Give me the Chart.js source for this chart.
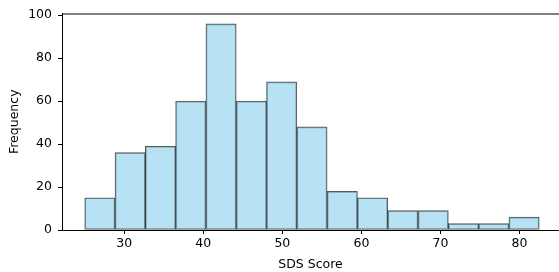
<!DOCTYPE html>
<html>
<head>
<meta charset="utf-8">
<script src="https://cdn.jsdelivr.net/npm/chart.js@4/dist/chart.umd.min.js"></script>
<style>
    html, body { margin: 0; padding: 0; background: #fff; overflow: hidden; }
    #wrap { width: 559px; height: 272px; position: relative; }
</style>
</head>
<body>
<div id="wrap"><canvas id="histChart"></canvas></div>
<script>
// histogram: 15 bins from 25 to 82.5
const binStart = 25;
const binEnd = 82.5;
const counts = [15, 36, 39, 60, 96, 60, 69, 48, 18, 15, 9, 9, 3, 3, 6];
const xTicks = [30, 40, 50, 60, 70, 80];
const yTicks = [0, 20, 40, 60, 80, 100];

const binWidth = (binEnd - binStart) / counts.length;
const binCenters = counts.map((c, i) => binStart + binWidth * (i + 0.5));

const fontFamily = "'DejaVu Sans', sans-serif";

// matplotlib-like top spine
const topSpine = {
    id: 'topSpine',
    afterDraw(chart) {
        const { ctx, chartArea } = chart;
        ctx.save();
        ctx.strokeStyle = '#000';
        ctx.lineWidth = 1;
        ctx.beginPath();
        ctx.moveTo(chartArea.left, chartArea.top + 0.5);
        ctx.lineTo(chartArea.right, chartArea.top + 0.5);
        ctx.stroke();
        ctx.restore();
    }
};

document.addEventListener('DOMContentLoaded', () => {
    const ctx = document.getElementById('histChart');
    new Chart(ctx.getContext('2d'), {
        type: 'bar',
        data: {
            datasets: [{
                label: 'Frequency',
                data: binCenters.map((x, i) => ({ x: x, y: counts[i] })),
                backgroundColor: 'rgba(135, 206, 235, 0.6)',
                borderColor: 'rgba(0, 0, 0, 0.65)',
                borderWidth: 1,
                borderSkipped: false,
                barPercentage: 1,
                categoryPercentage: 1
            }]
        },
        options: {
            responsive: true,
            maintainAspectRatio: false,
            animation: false,
            layout: { padding: { top: 12, right: 0, left: 0, bottom: 0 } },
            plugins: {
                legend: { display: false },
                tooltip: { enabled: false }
            },
            scales: {
                x: {
                    type: 'linear',
                    offset: false,
                    min: 22.125,
                    max: 85,
                    afterBuildTicks: (scale) => { scale.ticks = xTicks.map(v => ({ value: v })); },
                    afterFit: (scale) => { scale.height = 42; },
                    ticks: {
                        color: '#000',
                        padding: 2,
                        maxRotation: 0,
                        font: { family: fontFamily, size: 12.5 }
                    },
                    grid: {
                        offset: false,
                        drawOnChartArea: false,
                        drawTicks: true,
                        tickLength: 4,
                        tickColor: '#000'
                    },
                    border: { color: '#000', width: 1 },
                    title: {
                        display: true,
                        text: 'SDS Score',
                        color: '#000',
                        padding: { top: 0, bottom: 0 },
                        font: { family: fontFamily, size: 12.5 }
                    }
                },
                y: {
                    min: 0,
                    max: 100.8,
                    afterBuildTicks: (scale) => { scale.ticks = yTicks.map(v => ({ value: v })); },
                    afterFit: (scale) => { scale.width = 62; },
                    ticks: {
                        color: '#000',
                        padding: 6,
                        font: { family: fontFamily, size: 12.5 }
                    },
                    grid: {
                        drawOnChartArea: false,
                        drawTicks: true,
                        tickLength: 4,
                        tickColor: '#000'
                    },
                    border: { color: '#000', width: 1 },
                    title: {
                        display: true,
                        text: 'Frequency',
                        color: '#000',
                        padding: { top: 7, bottom: 0 },
                        font: { family: fontFamily, size: 12.5 }
                    }
                }
            }
        },
        plugins: [topSpine]
    });
});
</script>
</body>
</html>
